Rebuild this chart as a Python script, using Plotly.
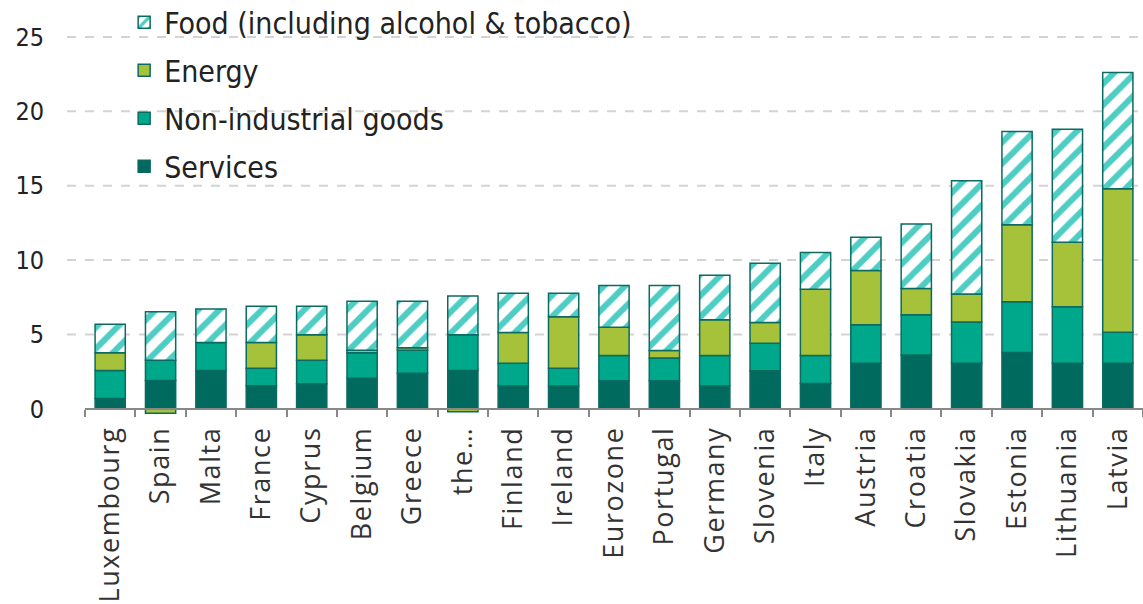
import plotly.graph_objects as go

countries = ["Luxembourg", "Spain", "Malta", "France", "Cyprus", "Belgium", "Greece", "the…",
             "Finland", "Ireland", "Eurozone", "Portugal", "Germany", "Slovenia", "Italy",
             "Austria", "Croatia", "Slovakia", "Estonia", "Lithuania", "Latvia"]

services = [0.70, 1.90, 2.57, 1.55, 1.69, 2.05, 2.39, 2.57,
            1.53, 1.53, 1.89, 1.89, 1.53, 2.55, 1.70,
            3.07, 3.61, 3.07, 3.79, 3.07, 3.07]
non_industrial = [1.87, 1.37, 1.89, 1.18, 1.58, 1.71, 1.55, 2.41,
                  1.53, 1.19, 1.69, 1.53, 2.05, 1.86, 1.88,
                  2.58, 2.72, 2.76, 3.41, 3.79, 2.07]
energy = [1.19, -0.30, 0.00, 1.73, 1.71, 0.18, 0.16, -0.20,
          2.07, 3.47, 1.91, 0.50, 2.40, 1.39, 4.46,
          3.64, 1.75, 1.89, 5.18, 4.33, 9.66]
food = [1.92, 3.26, 2.25, 2.43, 1.91, 3.29, 3.13, 2.61,
        2.64, 1.58, 2.80, 4.37, 3.00, 3.98, 2.46,
        2.24, 4.35, 7.62, 6.26, 7.61, 7.81]

y_ticks = [0, 5, 10, 15, 20, 25]

outline = dict(color="#0B6B60", width=1.5)
fig = go.Figure()
fig.add_trace(go.Bar(name="Services", x=countries, y=services, legendgroup="s", legendrank=4,
                     marker=dict(color="#006A5F", line=outline)))
fig.add_trace(go.Bar(name="Non-industrial goods", x=countries, y=non_industrial, legendgroup="n",
                     legendrank=3, marker=dict(color="#00A88B", line=outline)))
fig.add_trace(go.Bar(name="Energy", x=countries, y=energy, legendgroup="e", legendrank=2,
                     marker=dict(color="#A5C23A", line=outline)))
fig.add_trace(go.Bar(name="Food (including alcohol & tobacco)", x=countries, y=food, legendgroup="f",
                     legendrank=1,
                     marker=dict(color="#FFFFFF", line=outline,
                                 pattern=dict(shape="/", fgcolor="#4ECDC4", bgcolor="#FFFFFF",
                                              fgopacity=1, size=15, solidity=0.4,
                                              fillmode="overlay"))))

ymin, ymax = -0.35, 26.14
cond = "Liberation Sans Narrow, DejaVu Sans Condensed, Roboto Condensed, Arial Narrow, sans-serif"

# dashed horizontal gridlines at the y tick values, extended slightly left of the axis
for v in y_ticks[1:]:
    fig.add_shape(type="line", xref="paper", yref="y", x0=-0.017, x1=1, y0=v, y1=v,
                  line=dict(color="#D3D3D3", width=2, dash="dash"), layer="below")

ticktext = ['<span style="letter-spacing:1.6px">%s</span>' % c for c in countries]

fig.update_layout(
    width=1143, height=604,
    barmode="relative", bargap=0.4,
    plot_bgcolor="white", paper_bgcolor="white",
    margin=dict(l=85, r=0, t=20, b=190, autoexpand=False),
    showlegend=True,
    legend=dict(x=0.037, y=1.06,
                xanchor="left", yanchor="top", traceorder="grouped",
                font=dict(family=cond, size=30, color="#222"),
                bgcolor="rgba(0,0,0,0)", tracegroupgap=6),
    xaxis=dict(type="category", tickangle=-90, tickson="boundaries",
               tickmode="array", tickvals=countries, ticktext=ticktext,
               ticks="outside", ticklen=7, tickwidth=2, tickcolor="#888",
               showline=True, linecolor="#888", linewidth=2,
               anchor="free", position=(0 - ymin) / (ymax - ymin),
               ticklabelstandoff=6,
               tickfont=dict(family="Open Sans", size=27, color="#333"),
               showgrid=False, range=[-0.5, 20.5]),
    yaxis=dict(range=[ymin, ymax], tickvals=y_ticks, showgrid=False,
               zeroline=False, ticks="", ticklabelstandoff=40,
               tickfont=dict(family=cond, size=25, color="#222")),
)

fig.write_html("out.html")
